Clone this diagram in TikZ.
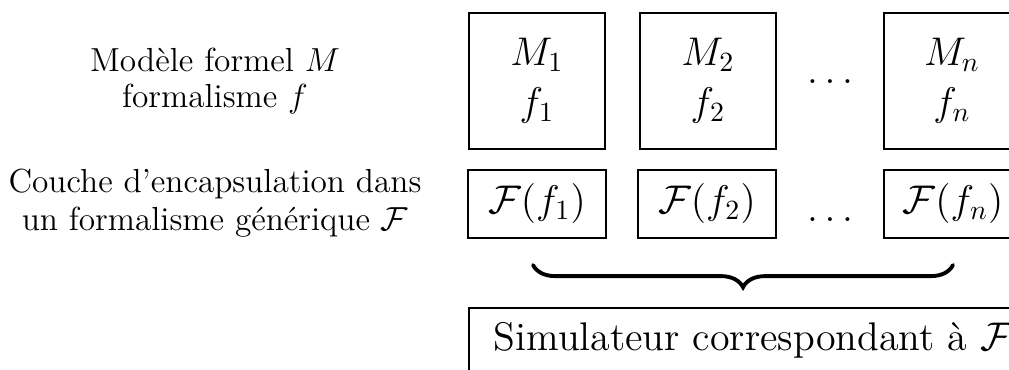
\documentclass[tikz,border=0pt]{standalone}
\usepackage{fontspec}
\usetikzlibrary{decorations.pathreplacing}
\tikzset{
  modbox/.style={draw, line width=0.6pt, minimum width=49pt, minimum height=49pt, align=center, font=\Large, inner sep=0pt},
  encbox/.style={draw, line width=0.6pt, minimum width=49.5pt, minimum height=24.5pt, font=\Large, inner sep=0pt},
  layer/.style={align=center, font=\large}
}
\begin{document}
\begin{tikzpicture}[x=0.36pt, y=-0.36pt]
\clip (0,0) rectangle (1009,370);
% labels on the left
\node[layer] (lblM) at (215,81) {Modèle formel $M$\\[-1pt] formalisme $f$};
\node[layer] (lblF) at (215,203) {Couche d'encapsulation dans\\[-0.5pt] un formalisme générique $\mathcal{F}$};
% models
\foreach \i/\x in {1/537, 2/708, n/952} \node[modbox] (m\i) at (\x,81) {$M_\i$\\ $f_\i$};
\node (mdots) at (830,82) {\Large$\ldots$};
% encapsulation layer
\foreach \i/\x in {1/537, 2/707, n/953} \node[encbox] (ff\i) at (\x,204) {$\mathcal{F}(f_\i)$};
\node (fdots) at (830,220) {\Large$\ldots$};
% brace and simulator
\coordinate (bl) at (533,265);
\coordinate (br) at (953,265);
\draw[decorate, decoration={brace, mirror, amplitude=8pt}, line width=1.4pt, line cap=round] (bl) -- (br);
\node[draw, line width=0.6pt, font=\Large, anchor=north west, inner xsep=9pt, inner ysep=5.4pt] (sim) at (468,307) {Simulateur correspondant à $\mathcal{F}$};
\end{tikzpicture}
\end{document}
